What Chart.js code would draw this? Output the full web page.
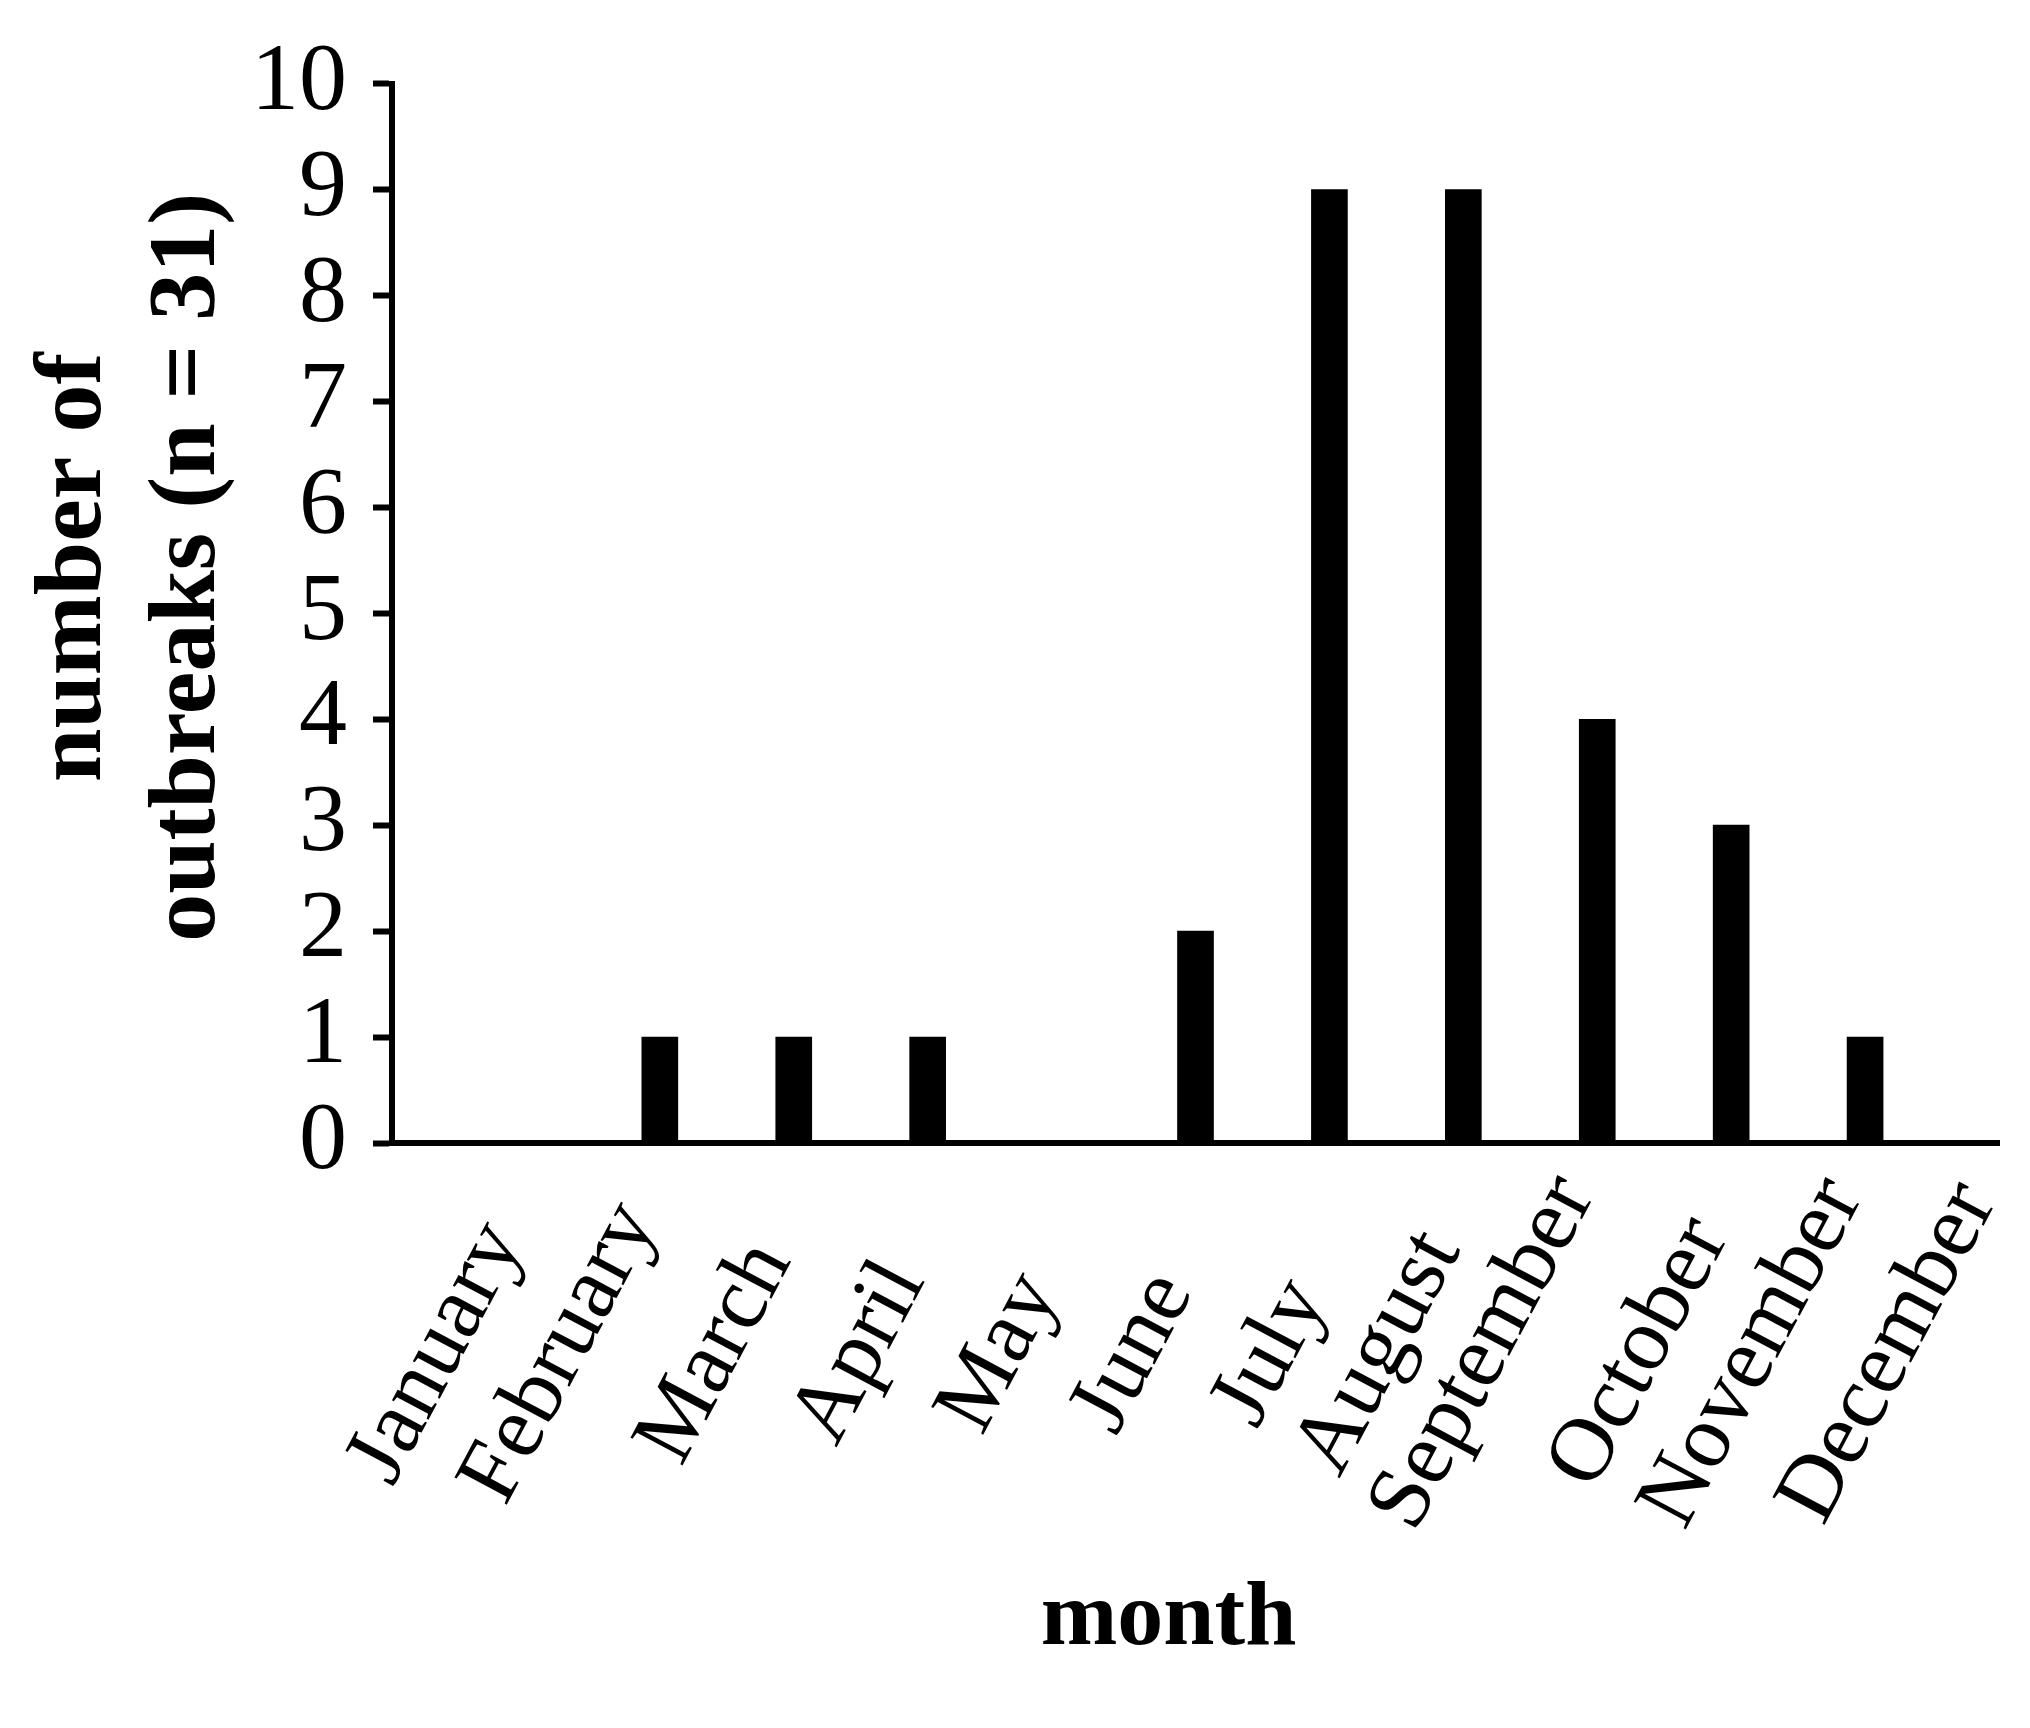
<!DOCTYPE html>
<html>
<head>
<meta charset="utf-8">
<title>Outbreaks by month</title>
<script src="https://cdn.jsdelivr.net/npm/chart.js@4.4.1/dist/chart.umd.min.js"></script>
<style>
  html, body { margin: 0; padding: 0; background: #fff; }
  #outbreakChart { display: block; width: 2030px; height: 1728px; }
</style>
</head>
<body>
<canvas id="outbreakChart" width="2030" height="1728"></canvas>
<script>
// data
var months = ['January', 'February', 'March', 'April', 'May', 'June',
              'July', 'August', 'September', 'October', 'November', 'December'];
var monthNumbers = [1, 2, 3, 4, 5, 6, 7, 8, 9, 10, 11, 12];
var outbreaks = [0, 1, 1, 1, 0, 2, 9, 9, 4, 3, 1, 0];
var yTickValues = [0, 1, 2, 3, 4, 5, 6, 7, 8, 9, 10];
var yTitleLines = ['number of', 'outbreaks (n = 31)'];
var xTitle = 'month';

var serif = '"Liberation Serif", "Times New Roman", serif';
var labelAngle = 62 * Math.PI / 180;

// bars sit on a numeric month axis so the axis can run a little past December
var points = monthNumbers.map(function (m, i) {
    return { x: m, y: outbreaks[i] };
});

// month names and axis titles are placed the way the spreadsheet did it:
// rotated names share a common centre line and end at their tick,
// titles sit a bit off the middle of their axis
var axisTextPlugin = {
    id: 'axisText',
    afterDraw: function (chart) {
        var c = chart.ctx,
            area = chart.chartArea,
            xScale = chart.scales.x;

        c.save();
        c.fillStyle = '#000';
        c.textAlign = 'center';
        c.textBaseline = 'middle';

        c.font = '90px ' + serif;
        xScale.ticks.forEach(function (tick) {
            var label = months[tick.value - 1],
                w = c.measureText(label).width,
                px = xScale.getPixelForValue(tick.value);
            c.save();
            c.translate(px - w / 2 * Math.cos(labelAngle) - 23, area.bottom + 210);
            c.rotate(-labelAngle);
            c.fillText(label, 0, 0);
            c.restore();
        });

        c.font = 'bold 92px ' + serif;
        c.fillText(xTitle, (area.left + area.right) / 2 - 27, area.bottom + 477);

        c.font = 'bold 96px ' + serif;
        c.translate(75, (area.top + area.bottom) / 2 - 46);
        c.rotate(-Math.PI / 2);
        yTitleLines.forEach(function (line, i) {
            c.fillText(line, 0, i * 114);
        });
        c.restore();
    }
};

var ctx = document.getElementById('outbreakChart');
var outbreakChart = new Chart(ctx, {
    type: 'bar',
    data: {
        datasets: [{
            label: 'outbreaks',
            data: points,
            backgroundColor: '#000',
            borderWidth: 0,
            barThickness: 36
        }]
    },
    options: {
        responsive: false,
        devicePixelRatio: 1,
        animation: false,
        layout: { padding: { left: 0, right: 31, top: 75, bottom: 0 } },
        plugins: {
            legend: { display: false },
            tooltip: { enabled: false }
        },
        scales: {
            x: {
                type: 'linear',
                offset: false,
                min: 0,
                max: 12,
                afterBuildTicks: function (scale) {
                    scale.ticks = monthNumbers.map(function (m) { return { value: m }; });
                },
                afterFit: function (scale) {
                    scale.height = 585;
                    scale.paddingLeft = 0;
                    scale.paddingRight = 0;
                },
                ticks: { display: false, autoSkip: false },
                grid: { display: false, drawTicks: false, tickLength: 0 },
                border: { display: true, color: '#000', width: 6 },
                title: { display: false }
            },
            y: {
                min: 0,
                max: 10,
                afterBuildTicks: function (scale) {
                    scale.ticks = yTickValues.map(function (v) { return { value: v }; });
                },
                afterFit: function (scale) {
                    scale.width = 392;
                },
                ticks: {
                    autoSkip: false,
                    stepSize: 1,
                    padding: 26,
                    color: '#000',
                    font: { family: serif, size: 96 }
                },
                grid: {
                    display: true,
                    drawOnChartArea: false,
                    drawTicks: true,
                    tickLength: 19,
                    tickWidth: 6,
                    tickColor: '#000'
                },
                border: { display: true, color: '#000', width: 6 },
                title: { display: false }
            }
        }
    },
    plugins: [axisTextPlugin]
});
</script>
</body>
</html>
